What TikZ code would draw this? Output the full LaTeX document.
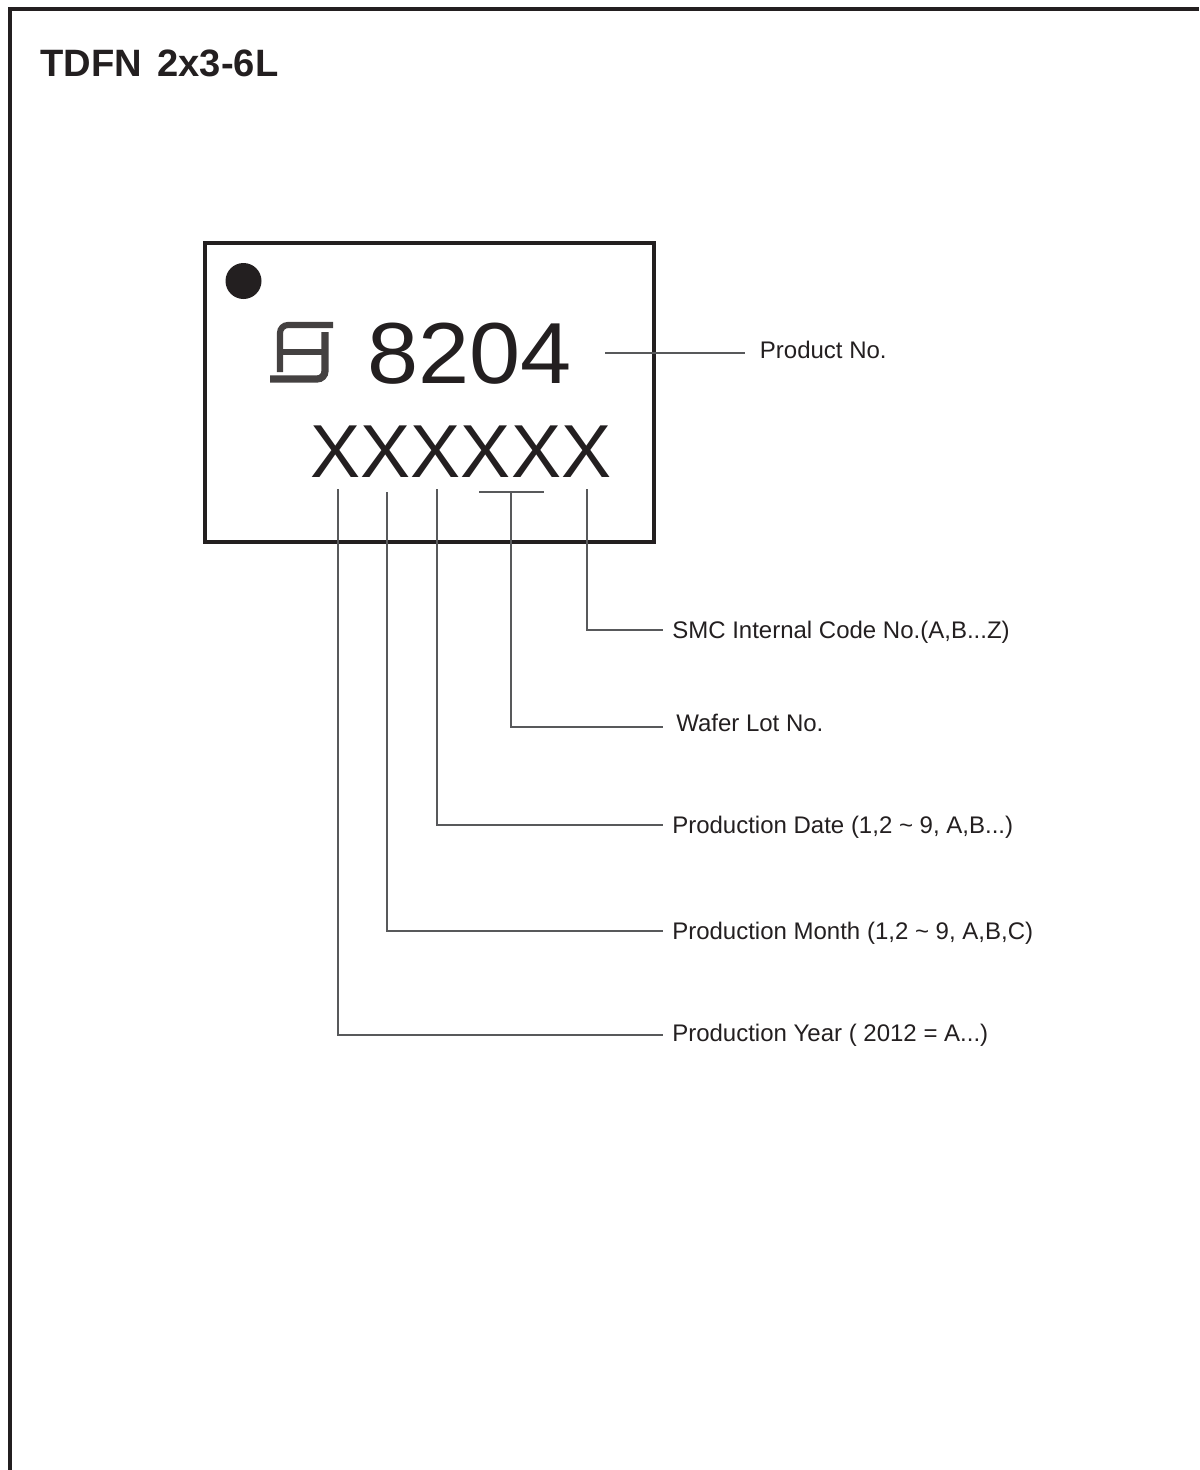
\documentclass[tikz,border=0pt]{standalone}
\usepackage{fontspec}
\setmainfont{Liberation Sans}
\newfontfamily\partfont[FakeStretch=1.06]{Liberation Sans}
\definecolor{mInk}{HTML}{231F20}
\definecolor{mLead}{HTML}{58595B}
\usetikzlibrary{positioning}

\begin{document}
\begin{tikzpicture}[x=0.75pt, y=-0.75pt,
    frameline/.style={draw=mInk, line width=2.3pt},
    leadline/.style={draw=mLead, line width=1.5pt},
    logoline/.style={draw=mInk!85, line width=4.6pt, rounded corners=6pt},
    leadlabel/.style={anchor=west, inner xsep=6.75pt, inner ysep=0pt, text=mInk,
      font=\fontsize{18}{20}\selectfont, text height=13pt, text depth=1pt}]
\useasboundingbox (0,0) rectangle (1199,1470);
\draw[frameline] (10,1470) -- (10,9) -- (1199,9);
\node[anchor=base west, inner sep=0pt, text=mInk, font=\fontsize{28.6}{32}\selectfont\bfseries]
  (title) at (40,77) {TDFN\hspace{3.8pt} 2x3-6L};
% package outline
\draw[frameline, line width=2.5pt] (205,243) rectangle (654,542);
\fill[mInk] (243.5,281) circle (13.5pt);
\draw[logoline] (333,325) -- (280,325) -- (280,372);
\draw[draw=mInk!85, line width=3.8pt] (280,352) -- (325,352);
\draw[logoline, line width=5.4pt] (325,332) -- (325,379) -- (270,379);
\node[anchor=base west, inner sep=0pt, text=mInk, font=\partfont\fontsize{65}{70}\selectfont]
  (partno) at (367,383) {8204};
\node[anchor=base west, inner sep=0pt, text=mInk, font=\fontsize{56.3}{60}\selectfont]
  (code) at (310.5,477) {XXXXXX};
% labels
\node[leadlabel, inner xsep=11pt] (product) at (745,350) {Product No.};
\node[leadlabel] (internal) at (663,630) {SMC Internal Code No.(A,B...Z)};
\node[leadlabel] (wafer) at (667,723) {Wafer Lot No.};
\node[leadlabel] (date) at (663,825) {Production Date (1,2 \char`\~{} 9, A,B...)};
\node[leadlabel] (month) at (663,931) {Production Month (1,2 \char`\~{} 9, A,B,C)};
\node[leadlabel] (year) at (663,1033) {Production Year ( 2012 = A...)};
% leaders
\coordinate (pstart) at (605,353);
\coordinate (ytop) at (338,489);
\coordinate (mtop) at (387,492);
\coordinate (dtop) at (437,489);
\coordinate (wleft) at (479,492);
\coordinate (wright) at (544,492);
\coordinate (wtop) at (510.5,492);
\coordinate (itop) at (587,489);
\coordinate (wend) at (663,727);
\draw[leadline] (pstart) -- ([yshift=-2.25pt]product.west);
\draw[leadline] (ytop) |- ([yshift=-1.5pt]year.west);
\draw[leadline] (mtop) |- (month.west);
\draw[leadline] (dtop) |- (date.west);
\draw[leadline] (wleft) -- (wright);
\draw[leadline] (wtop) |- (wend);
\draw[leadline] (itop) |- (internal.west);
\end{tikzpicture}
\end{document}
